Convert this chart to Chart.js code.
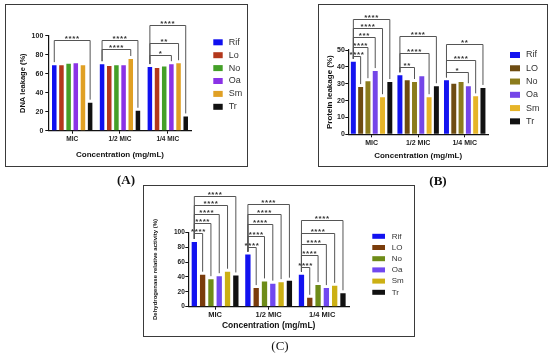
<!DOCTYPE html>
<html>
<head>
<meta charset="utf-8">
<script src="https://cdn.jsdelivr.net/npm/chart.js@4.4.1/dist/chart.umd.min.js"></script>
<style>
  body { margin: 0; background: #fff; width: 550px; height: 356px; position: relative; overflow: hidden; }
  canvas { position: absolute; }
  .frame { position: absolute; border: 1px solid #3a3a3a; box-sizing: border-box; pointer-events: none; }
  .tag { position: absolute; font-family: "Liberation Serif", "DejaVu Serif", serif; font-size: 13px; color: #111; transform: translate(-50%, -50%); }
</style>
</head>
<body>
<canvas id="chartA" width="243" height="163" style="left:5px;top:4px"></canvas>
<canvas id="chartB" width="230" height="163" style="left:318px;top:4px"></canvas>
<canvas id="chartC" width="272" height="152" style="left:143px;top:185px"></canvas>
<div class="frame" style="left:5px;top:4px;width:243px;height:163px"></div>
<div class="frame" style="left:318px;top:4px;width:230px;height:163px"></div>
<div class="frame" style="left:143px;top:185px;width:272px;height:152px"></div>
<div class="tag" style="left:126px;top:180px;font-weight:bold">(A)</div>
<div class="tag" style="left:438px;top:181px;font-weight:bold">(B)</div>
<div class="tag" style="left:280px;top:346px">(C)</div>

<script>
const categories = ["MIC", "1/2 MIC", "1/4 MIC"];

// (A) DNA leakage (%)
const dnaNames = ["Rif", "Lo", "No", "Oa", "Sm", "Tr"];
const dnaRif = [69, 70, 67];
const dnaLo = [69, 68, 66];
const dnaNo = [70.5, 69, 67.5];
const dnaOa = [71, 69, 70];
const dnaSm = [69, 75.5, 71];
const dnaTr = [29.5, 21, 15];
const dnaTicks = [0, 20, 40, 60, 80, 100];
// [category, from series, to series, bracket level, label]
const dnaBrackets = [
  [0, 0, 5, 96, "****"],
  [1, 0, 4, 86, "****"],
  [1, 0, 5, 95, "****"],
  [2, 0, 3, 80, "*"],
  [2, 0, 4, 92, "**"],
  [2, 0, 5, 111, "****"],
];

// (B) Protein leakage (%)
const protNames = ["Rif", "LO", "No", "Oa", "Sm", "Tr"];
const protRif = [43, 35, 32];
const protLo = [28, 32, 30];
const protNo = [31.5, 31, 31];
const protOa = [37.5, 34.5, 28.5];
const protSm = [22, 22, 22.5];
const protTr = [31, 28.5, 27.5];
const protTicks = [0, 10, 20, 30, 40, 50];
const protBrackets = [
  [0, 0, 1, 46.5, "****"],
  [0, 0, 2, 52, "****"],
  [0, 0, 3, 57.5, "***"],
  [0, 0, 4, 63, "****"],
  [0, 0, 5, 68.5, "****"],
  [1, 0, 2, 40, "**"],
  [1, 0, 4, 48.5, "****"],
  [1, 0, 5, 58.5, "****"],
  [2, 0, 3, 37, "*"],
  [2, 0, 4, 44, "****"],
  [2, 0, 5, 53.5, "**"],
];

// (C) Dehydrogenase relative activity (%)
const dehyNames = ["Rif", "LO", "No", "Oa", "Sm", "Tr"];
const dehyRif = [87, 70, 43];
const dehyLo = [43, 25, 12];
const dehyNo = [37, 34, 29];
const dehyOa = [41, 31, 25];
const dehySm = [47, 33, 28];
const dehyTr = [42, 35, 18];
const dehyTicks = [0, 20, 40, 60, 80, 100];
const dehyBrackets = [
  [0, 0, 1, 99, "****"],
  [0, 0, 2, 112, "****"],
  [0, 0, 3, 125, "****"],
  [0, 0, 4, 137, "****"],
  [0, 0, 5, 149, "****"],
  [1, 0, 1, 80, "****"],
  [1, 0, 2, 95.5, "****"],
  [1, 0, 3, 111, "****"],
  [1, 0, 4, 125, "****"],
  [1, 0, 5, 138, "****"],
  [2, 0, 1, 53, "****"],
  [2, 0, 2, 69, "****"],
  [2, 0, 3, 84, "****"],
  [2, 0, 4, 99, "****"],
  [2, 0, 5, 117, "****"],
];

const SANS = "'Liberation Sans', Arial, sans-serif";

// Legend column drawn to the right of the plot, like the Prism export
function makeSideLegend(lg) {
  return {
    id: "sideLegend",
    afterDraw(chart) {
      const { ctx } = chart;
      ctx.save();
      ctx.font = `${lg.size}px ${SANS}`;
      ctx.textAlign = "left";
      ctx.textBaseline = "middle";
      chart.data.datasets.forEach((ds, i) => {
        const cy = lg.y + i * lg.dy;
        ctx.fillStyle = ds.backgroundColor;
        ctx.fillRect(lg.x, cy - lg.h / 2, lg.w, lg.h);
        ctx.fillStyle = "#333";
        ctx.fillText(ds.label, lg.textX, cy);
      });
      ctx.restore();
    },
  };
}

// Significance brackets, placed from the bar elements and the y scale
function makeBrackets(items, size) {
  return {
    id: "brackets",
    afterDatasetsDraw(chart) {
      const { ctx } = chart;
      const yScale = chart.scales.y;
      ctx.save();
      ctx.strokeStyle = "#555";
      ctx.lineWidth = 1;
      ctx.fillStyle = "#333";
      ctx.font = `bold ${size}px ${SANS}`;
      ctx.letterSpacing = "0.6px";
      ctx.textAlign = "center";
      ctx.textBaseline = "bottom";
      items.forEach(([cat, from, to, level, label]) => {
        const a = chart.getDatasetMeta(from).data[cat];
        const b = chart.getDatasetMeta(to).data[cat];
        const top = Math.round(yScale.getPixelForValue(level)) + 0.5;
        const ya = yScale.getPixelForValue(chart.data.datasets[from].data[cat]) - 3;
        const yb = yScale.getPixelForValue(chart.data.datasets[to].data[cat]) - 3;
        ctx.beginPath();
        ctx.moveTo(a.x, ya);
        ctx.lineTo(a.x, top);
        ctx.lineTo(b.x, top);
        ctx.lineTo(b.x, yb);
        ctx.stroke();
        ctx.fillText(label, (a.x + b.x) / 2, top + 2);
      });
      ctx.restore();
    },
  };
}

function buildPanel(canvasId, p) {
  const ctx = document.getElementById(canvasId);
  const axisColor = "#111";

  return new Chart(ctx, {
    type: "bar",
    data: {
      labels: categories,
      datasets: p.names.map((name, i) => ({
        label: name,
        data: p.series[i],
        backgroundColor: p.colors[i],
        categoryPercentage: p.catPct,
        barPercentage: p.barPct,
      })),
    },
    options: {
      responsive: false,
      animation: false,
      layout: { padding: p.padding },
      plugins: {
        legend: { display: false },
        tooltip: { enabled: false },
      },
      scales: {
        x: {
          offset: true,
          grid: { drawOnChartArea: false, tickLength: 3, offset: false, color: axisColor },
          border: { color: axisColor, width: 1.2 },
          ticks: {
            font: { family: SANS, size: p.xTickSize, weight: "bold" },
            color: "#222",
            padding: p.xTickPad,
            maxRotation: 0,
          },
          title: {
            display: true,
            text: "Concentration (mg/mL)",
            font: { family: SANS, size: p.xTitleSize, weight: "bold" },
            color: "#111",
            padding: { top: 0, bottom: 2 },
          },
          afterFit: (scale) => {
            scale.height = p.xHeight;
          },
        },
        y: {
          min: 0,
          max: p.ticks[p.ticks.length - 1],
          afterBuildTicks: (scale) => {
            scale.ticks = p.ticks.map((v) => ({ value: v }));
          },
          grid: { drawOnChartArea: false, tickLength: 3, color: axisColor },
          border: { color: axisColor, width: 1.2 },
          ticks: {
            font: { family: SANS, size: p.yTickSize, weight: "bold" },
            color: "#222",
            padding: p.yTickPad,
          },
          title: {
            display: true,
            text: p.yTitle,
            font: { family: SANS, size: p.yTitleSize, weight: "bold" },
            color: "#111",
            padding: { top: 1, bottom: 0 },
          },
          afterFit: (scale) => {
            scale.width = p.yWidth;
          },
        },
      },
    },
    plugins: [makeBrackets(p.brackets, p.starSize), makeSideLegend(p.legend)],
  });
}

document.addEventListener("DOMContentLoaded", () => {
  buildPanel("chartA", {
    names: dnaNames,
    series: [dnaRif, dnaLo, dnaNo, dnaOa, dnaSm, dnaTr],
    colors: ["#1010f0", "#b3381c", "#44a028", "#8a32e6", "#e0a024", "#111111"],
    ticks: dnaTicks,
    brackets: dnaBrackets,
    yTitle: "DNA leakage (%)",
    padding: { left: 12, top: 31.7, right: 56.3, bottom: 5 },
    yWidth: 31.3,
    xHeight: 31.3,
    catPct: 0.9,
    barPct: 0.63,
    xTickSize: 6.5,
    xTickPad: 2,
    xTitleSize: 8,
    yTickSize: 7,
    yTickPad: 2,
    yTitleSize: 7.5,
    starSize: 8,
    legend: { x: 208.3, w: 9.4, h: 6, textX: 223.7, y: 38.3, dy: 12.9, size: 9 },
  });

  buildPanel("chartB", {
    names: protNames,
    series: [protRif, protLo, protNo, protOa, protSm, protTr],
    colors: ["#1414f0", "#6e4c12", "#8c7c1c", "#7446e8", "#e6b428", "#111111"],
    ticks: protTicks,
    brackets: protBrackets,
    yTitle: "Protein leakage (%)",
    padding: { left: 6.2, top: 46, right: 60, bottom: 4.2 },
    yWidth: 24.1,
    xHeight: 28.5,
    catPct: 0.94,
    barPct: 0.68,
    xTickSize: 7,
    xTickPad: 2,
    xTitleSize: 8,
    yTickSize: 7,
    yTickPad: 0.5,
    yTitleSize: 8,
    starSize: 8,
    legend: { x: 192, w: 10, h: 6, textX: 208, y: 51, dy: 13.27, size: 9 },
  });

  buildPanel("chartC", {
    names: dehyNames,
    series: [dehyRif, dehyLo, dehyNo, dehyOa, dehySm, dehyTr],
    colors: ["#1212f0", "#7a3c0c", "#6e8c18", "#7048f0", "#ccb014", "#111111"],
    ticks: dehyTicks,
    brackets: dehyBrackets,
    yTitle: "Dehydrogenase relative activity (%)",
    padding: { left: 8.1, top: 47.3, right: 66, bottom: 4.2 },
    yWidth: 37.2,
    xHeight: 26.1,
    catPct: 0.93,
    barPct: 0.64,
    xTickSize: 7.5,
    xTickPad: 1,
    xTitleSize: 8.5,
    yTickSize: 6.5,
    yTickPad: 0.5,
    yTitleSize: 6,
    starSize: 8,
    legend: { x: 229.3, w: 12.7, h: 5, textX: 248.7, y: 51.3, dy: 11.2, size: 8 },
  });
});
</script>
</body>
</html>
